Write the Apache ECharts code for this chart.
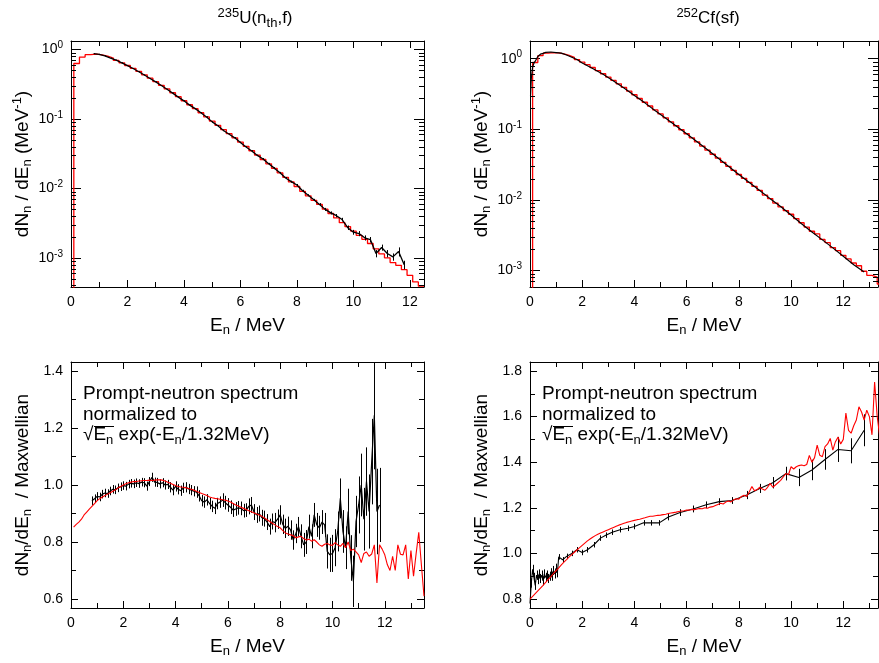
<!DOCTYPE html>
<html>
<head>
<meta charset="utf-8">
<script src="https://cdn.jsdelivr.net/npm/echarts@6/dist/echarts.min.js"></script>
<style>
  html, body { margin: 0; padding: 0; background: #fff; }
  #chart { width: 879px; height: 663px; }
</style>
</head>
<body>
<div id="chart"></div>
<script>
// ---------------- data ----------------
// ratio to Maxwellian, 235U(nth,f): calculation (red), 0.1 MeV grid from 0.1 MeV
const ratioStep = 0.1;
const ratioUCalcStart = 0.1;
const ratioUCalc = [
  0.852, 0.862, 0.870, 0.880, 0.895, 0.905, 0.915, 0.925, 0.935, 0.945,
  0.952, 0.958, 0.963, 0.968, 0.973, 0.978, 0.983, 0.990, 0.995, 1.000,
  1.004, 1.008, 1.010, 1.012, 1.012, 1.014, 1.015, 1.016, 1.016, 1.017,
  1.016, 1.017, 1.018, 1.018, 1.017, 1.014, 1.010, 1.006, 1.002, 0.998,
  0.995, 0.993, 0.992, 0.990, 0.988, 0.985, 0.982, 0.978, 0.974, 0.970,
  0.967, 0.963, 0.958, 0.955, 0.953, 0.952, 0.950, 0.948, 0.947, 0.944,
  0.940, 0.935, 0.930, 0.926, 0.922, 0.918, 0.914, 0.910, 0.906, 0.902,
  0.898, 0.895, 0.890, 0.884, 0.878, 0.872, 0.866, 0.860, 0.854, 0.850,
  0.840, 0.832, 0.828, 0.825, 0.822, 0.815, 0.818, 0.820, 0.812, 0.807,
  0.810, 0.803, 0.808, 0.800, 0.790, 0.785, 0.792, 0.795, 0.790, 0.788,
  0.798, 0.790, 0.785, 0.795, 0.780, 0.800, 0.770, 0.775, 0.765, 0.755,
  0.728, 0.760, 0.765, 0.750, 0.758, 0.790, 0.656, 0.790, 0.775, 0.755,
  0.720, 0.700, 0.750, 0.700, 0.790, 0.757, 0.755, 0.790, 0.670, 0.770,
  0.680, 0.760, 0.834, 0.720, 0.610
];
// 235U experiment (black), 0.1 MeV grid from 0.8 MeV, with absolute errors
const ratioUExpStart = 0.8;
const ratioUExp = [
  0.945, 0.952, 0.960, 0.958, 0.968, 0.972, 0.970, 0.979, 0.985, 0.983,
  0.990, 0.994, 0.998, 0.996, 1.003, 1.006, 1.004, 1.008, 1.005, 1.010,
  1.008, 0.996, 1.012, 1.027, 1.010, 1.009, 1.004, 1.008, 1.000, 1.002,
  0.992, 0.982, 0.995, 0.985, 0.980, 0.990, 0.992, 0.986, 0.982, 0.978,
  0.975, 0.962, 0.945, 0.940, 0.948, 0.935, 0.925, 0.918, 0.935, 0.940,
  0.947, 0.938, 0.930, 0.922, 0.912, 0.916, 0.920, 0.918, 0.910, 0.912,
  0.925, 0.930, 0.905, 0.895, 0.900, 0.885, 0.882, 0.870, 0.854, 0.872,
  0.868, 0.880, 0.895, 0.862, 0.848, 0.855, 0.842, 0.807, 0.830, 0.854,
  0.820, 0.790, 0.800, 0.854, 0.820, 0.895, 0.860, 0.850, 0.870, 0.860,
  0.767, 0.755, 0.760, 0.780, 0.837, 0.953, 0.837, 0.780, 0.907, 0.744,
  0.662, 0.872, 0.930, 1.000, 0.880, 1.012, 0.907, 1.082, 1.245, 0.907,
  0.930
];
const ratioUExpErr = [
  0.015, 0.015, 0.015, 0.015, 0.015, 0.015, 0.015, 0.015, 0.015, 0.015,
  0.015, 0.015, 0.015, 0.015, 0.015, 0.015, 0.015, 0.015, 0.015, 0.015,
  0.016, 0.016, 0.016, 0.016, 0.016, 0.016, 0.016, 0.016, 0.016, 0.016,
  0.018, 0.018, 0.018, 0.018, 0.018, 0.018, 0.018, 0.018, 0.018, 0.018,
  0.020, 0.020, 0.020, 0.020, 0.020, 0.020, 0.020, 0.020, 0.020, 0.020,
  0.024, 0.024, 0.024, 0.024, 0.024, 0.024, 0.024, 0.024, 0.024, 0.024,
  0.028, 0.028, 0.028, 0.028, 0.028, 0.028, 0.028, 0.028, 0.028, 0.028,
  0.034, 0.034, 0.034, 0.034, 0.034, 0.034, 0.034, 0.034, 0.034, 0.034,
  0.042, 0.042, 0.042, 0.042, 0.042, 0.042, 0.042, 0.042, 0.042, 0.042,
  0.060, 0.060, 0.065, 0.065, 0.070, 0.070, 0.075, 0.075, 0.080, 0.080,
  0.090, 0.090, 0.100, 0.110, 0.110, 0.120, 0.130, 0.150, 0.190, 0.150,
  0.130
];

// ratio to Maxwellian, 252Cf(sf): calculation (red), 0.1 MeV grid from 0
const ratioCfCalcStart = 0.0;
const ratioCfCalc = [
  0.800, 0.812, 0.824, 0.836, 0.848, 0.860, 0.873, 0.886, 0.898, 0.912,
  0.925, 0.937, 0.950, 0.962, 0.973, 0.985, 0.995, 1.005, 1.015, 1.025,
  1.035, 1.045, 1.055, 1.063, 1.071, 1.078, 1.084, 1.089, 1.094, 1.099,
  1.104, 1.109, 1.114, 1.119, 1.124, 1.128, 1.132, 1.136, 1.139, 1.142,
  1.145, 1.148, 1.150, 1.153, 1.156, 1.160, 1.163, 1.163, 1.165, 1.167,
  1.168, 1.170, 1.172, 1.175, 1.177, 1.179, 1.181, 1.184, 1.186, 1.187,
  1.190, 1.190, 1.193, 1.192, 1.195, 1.197, 1.196, 1.200, 1.198, 1.203,
  1.205, 1.210, 1.215, 1.220, 1.217, 1.225, 1.230, 1.226, 1.235, 1.240,
  1.238, 1.250, 1.255, 1.250, 1.270, 1.293, 1.275, 1.280, 1.290, 1.282,
  1.277, 1.290, 1.307, 1.290, 1.300, 1.310, 1.320, 1.335, 1.350, 1.345,
  1.380, 1.370, 1.380, 1.385, 1.388, 1.384, 1.390, 1.430, 1.400, 1.420,
  1.475, 1.430, 1.424, 1.468, 1.480, 1.504, 1.453, 1.490, 1.510, 1.480,
  1.500, 1.615, 1.540, 1.527, 1.560, 1.585, 1.643, 1.620, 1.585, 1.628,
  1.600, 1.520, 1.752, 1.600, 1.510
];
// 252Cf experiment (black)
const ratioCfExpE = [
  0.00, 0.05, 0.10, 0.15, 0.20, 0.25, 0.30, 0.35, 0.40, 0.45, 0.50,
  0.55, 0.60, 0.65, 0.70, 0.75, 0.80, 0.85, 0.90, 0.95, 1.00, 1.05,
  1.10, 1.25, 1.40, 1.60, 1.80, 2.00, 2.20, 2.45, 2.70, 2.90, 3.15,
  3.45, 3.75, 4.00, 4.35, 4.65, 4.95, 5.30, 5.75, 6.25, 6.75, 7.25,
  7.75, 8.30, 8.80, 9.30, 9.80, 10.30, 10.80, 11.30, 11.80, 12.30, 12.80
];
const ratioCfExp = [
  0.780, 0.870, 0.930, 0.895, 0.860, 0.905, 0.885, 0.910, 0.890, 0.905, 0.880,
  0.910, 0.895, 0.905, 0.890, 0.900, 0.915, 0.900, 0.925, 0.910, 0.935, 0.915,
  0.985, 0.972, 0.987, 1.000, 1.016, 1.004, 1.016, 1.038, 1.067, 1.080, 1.093,
  1.104, 1.110, 1.118, 1.134, 1.134, 1.134, 1.160, 1.179, 1.195, 1.213, 1.227,
  1.232, 1.256, 1.285, 1.310, 1.350, 1.333, 1.366, 1.412, 1.456, 1.450, 1.540
];
const ratioCfExpErr = [
  0.020, 0.020, 0.020, 0.020, 0.020, 0.020, 0.020, 0.020, 0.020, 0.020, 0.020,
  0.020, 0.020, 0.020, 0.020, 0.020, 0.020, 0.020, 0.020, 0.020, 0.020, 0.020,
  0.012, 0.012, 0.012, 0.012, 0.012, 0.012, 0.012, 0.012, 0.012, 0.012, 0.012,
  0.012, 0.012, 0.012, 0.012, 0.012, 0.012, 0.015, 0.015, 0.015, 0.015, 0.015,
  0.015, 0.018, 0.020, 0.025, 0.030, 0.038, 0.045, 0.045, 0.055, 0.055, 0.070
];

// spectra dN/dE (MeV^-1); calculation as histogram, 0.2 MeV bins
const specStep = 0.2;
const specUCalcStart = 0.1;   // lower edge of first bin
const specUCalc = [
  0.630, 0.781, 0.846, 0.858, 0.842, 0.804, 0.754, 0.699, 0.645, 0.590,
  0.537, 0.484, 0.433, 0.387, 0.345, 0.306, 0.2714, 0.2390, 0.2095, 0.1833,
  0.1605, 0.1408, 0.1231, 0.1073, 0.0933, 0.0812, 0.0705, 0.0615, 0.0536, 0.0466,
  0.0404, 0.0349, 0.0302, 0.0261, 0.0226, 0.0195, 0.0168, 0.01443, 0.01239, 0.01066,
  0.00908, 0.00783, 0.00673, 0.00588, 0.00503, 0.00435, 0.00376, 0.00321, 0.00282, 0.00243,
  0.00211, 0.00185, 0.00161, 0.00135, 0.00114, 0.00100, 0.000854, 0.00078, 0.000676, 0.00056,
  0.00045, 0.00039
];
const specUExpStart = 0.8;
const specUExp = [
  0.876, 0.855, 0.812, 0.755, 0.704, 0.645, 0.589, 0.534, 0.480, 0.430,
  0.384, 0.343, 0.304, 0.2677, 0.2358, 0.2065, 0.1827, 0.1585, 0.1411, 0.1227,
  0.1070, 0.0909, 0.0799, 0.0683, 0.0604, 0.0535, 0.0460, 0.0394, 0.0347, 0.0299,
  0.0265, 0.0226, 0.0196, 0.01676, 0.01413, 0.01251, 0.01122, 0.00926, 0.00799, 0.00685,
  0.00588, 0.00499, 0.00444, 0.00405, 0.00356, 0.00272, 0.00234, 0.00224, 0.00194, 0.00183,
  0.001156, 0.00141, 0.001156, 0.001033, 0.00123, 0.000796
];
const specUExpRelErr = [
  0.016, 0.016, 0.016, 0.016, 0.016, 0.016, 0.016, 0.016, 0.016, 0.016,
  0.017, 0.017, 0.017, 0.017, 0.017, 0.017, 0.017, 0.017, 0.017, 0.017,
  0.023, 0.023, 0.023, 0.023, 0.023, 0.023, 0.023, 0.023, 0.023, 0.023,
  0.033, 0.033, 0.033, 0.033, 0.033, 0.033, 0.033, 0.033, 0.033, 0.033,
  0.045, 0.050, 0.050, 0.055, 0.060, 0.075, 0.080, 0.085, 0.085, 0.090,
  0.120, 0.100, 0.120, 0.120, 0.150, 0.140
];
const specCfCalcStart = 0.1;
const specCfCalc = [
  0.882, 1.104, 1.196, 1.221, 1.208, 1.168, 1.111, 1.044, 0.970, 0.896,
  0.823, 0.750, 0.679, 0.6115, 0.5491, 0.4917, 0.4395, 0.3914, 0.3477, 0.3082,
  0.2726, 0.2411, 0.2132, 0.1874, 0.1648, 0.1449, 0.1274, 0.1119, 0.0983, 0.0862,
  0.0755, 0.0660, 0.0577, 0.0504, 0.0442, 0.0389, 0.0339, 0.0298, 0.0261, 0.0228,
  0.0201, 0.01768, 0.01543, 0.01357, 0.01167, 0.01038, 0.00897, 0.00791, 0.00703, 0.00623,
  0.00541, 0.00472, 0.0041, 0.00358, 0.00328, 0.00274, 0.00247, 0.0021, 0.0019, 0.00163,
  0.00145, 0.00127, 0.00116, 0.00097, 0.00085, 0.0008, 0.00064
];
const specCfExpE = [
  0.02, 0.05, 0.1, 0.15, 0.2, 0.3, 0.4, 0.5, 0.6, 0.8,
  1.0, 1.2, 1.4, 1.6, 1.8, 2.0, 2.4, 2.8, 3.2, 3.6,
  4.0, 4.4, 4.8, 5.2, 5.6, 6.0, 6.4, 6.8, 7.2, 7.6,
  8.0, 8.4, 8.8, 9.2, 9.6, 10.0, 10.4, 10.8, 11.2, 11.6,
  12.0, 12.4, 12.8
];
const specCfExp = [
  0.30, 0.522, 0.760, 0.862, 0.921, 1.076, 1.158, 1.187, 1.226, 1.243,
  1.221, 1.199, 1.127, 1.049, 0.971, 0.869, 0.727, 0.601, 0.483, 0.3827,
  0.301, 0.2364, 0.1824, 0.1428, 0.1111, 0.086, 0.0663, 0.051, 0.0391, 0.0298,
  0.0228, 0.01757, 0.01351, 0.01037, 0.00803, 0.00608, 0.00456, 0.0035, 0.0027, 0.00208,
  0.00158, 0.0012, 0.000944
];

const titles = ['{u|235}U(n{s|th},f)', '{u|252}Cf(sf)'];

// ---------------- helpers ----------------
const FONT = 'Liberation Sans, Arial, sans-serif';
const RED = '#ff0000';
const BLACK = '#000000';
const r4 = v => Math.round(v * 10000) / 10000;

function onGrid(start, step, vals) {
  return vals.map((v, i) => [r4(start + i * step), v]);
}
function pairs(xs, ys) {
  return xs.map((x, i) => [x, ys[i]]);
}
// histogram for a step line: bins start at `start`, width `step`
function hist(start, step, vals, floor) {
  const pts = [[start, floor]];
  vals.forEach((v, i) => pts.push([r4(start + i * step), v]));
  pts.push([r4(start + vals.length * step), vals[vals.length - 1]]);
  return pts;
}

const subRich = {
  s: { fontFamily: FONT, fontSize: 13, color: BLACK, padding: [10, 0, 0, 0] },
  u: { fontFamily: FONT, fontSize: 13, color: BLACK, padding: [0, 0, 10, 0] }
};
const labelRich = {
  sup: { fontFamily: FONT, fontSize: 10, color: BLACK, padding: [0, 0, 8, 0] }
};

const grids = [
  { left: 71, top: 41, width: 353, height: 246 },
  { left: 530, top: 41, width: 348, height: 246 },
  { left: 71, top: 362, width: 353, height: 246 },
  { left: 530, top: 362, width: 348, height: 246 }
].map(g => Object.assign({ outerBoundsMode: 'none', containLabel: false }, g));

const xMax = [12.5, 13.33, 13.5, 13.33];
const yDefs = [
  { type: 'log', min: 3.8e-4, max: 1.33 },
  { type: 'log', min: 5.8e-4, max: 1.78 },
  { type: 'value', min: 0.5685, max: 1.4315 },
  { type: 'value', min: 0.7606, max: 1.8394 }
];

const xAxes = [];
const yAxes = [];
grids.forEach((g, i) => {
  ['bottom', 'top'].forEach(pos => {
    xAxes.push({
      type: 'value', gridIndex: i, position: pos, min: 0, max: xMax[i], interval: 2,
      axisLine: { show: true, onZero: false, lineStyle: { color: BLACK, width: 1 } },
      axisTick: { show: true, inside: true, length: 7, lineStyle: { color: BLACK } },
      minorTick: { show: true, splitNumber: 2, length: 5, lineStyle: { color: BLACK } },
      splitLine: { show: false },
      minorSplitLine: { show: false },
      axisLabel: {
        show: pos === 'bottom', margin: 8, color: BLACK, fontFamily: FONT, fontSize: 14,
        showMinLabel: true, showMaxLabel: false
      },
      name: pos === 'bottom' ? 'E{s|n} / MeV' : '',
      nameLocation: 'middle', nameGap: 27,
      nameTextStyle: { color: BLACK, fontFamily: FONT, fontSize: 19, rich: subRich }
    });
  });
  const yd = yDefs[i];
  const isLog = yd.type === 'log';
  ['left', 'right'].forEach(pos => {
    yAxes.push({
      type: yd.type, gridIndex: i, position: pos, min: yd.min, max: yd.max,
      logBase: 10,
      axisLine: { show: true, onZero: false, lineStyle: { color: BLACK, width: 1 } },
      axisTick: { show: true, inside: true, length: isLog ? 10 : 7, lineStyle: { color: BLACK } },
      minorTick: { show: !isLog, splitNumber: 2, length: 5, lineStyle: { color: BLACK } },
      splitLine: { show: false },
      minorSplitLine: { show: false },
      axisLabel: {
        show: pos === 'left', margin: 8, color: BLACK, fontFamily: FONT, fontSize: 14,
        showMinLabel: false, showMaxLabel: false,
        formatter: isLog
          ? v => '10{sup|' + Math.round(Math.log10(v)) + '}'
          : v => v.toFixed(1),
        rich: labelRich
      },
      name: pos === 'left'
        ? (isLog ? 'dN{s|n} / dE{s|n} (MeV{u|-1})' : 'dN{s|n}/dE{s|n}  / Maxwellian')
        : '',
      nameLocation: 'middle', nameRotate: 90, nameGap: 37,
      nameTextStyle: { color: BLACK, fontFamily: FONT, fontSize: 19, rich: subRich }
    });
  });
});

function errRender(params, api) {
  const x = api.value(0);
  const p1 = api.coord([x, api.value(1)]);
  const p2 = api.coord([x, api.value(2)]);
  const px = Math.round(p1[0]) + 0.5;
  return {
    type: 'line',
    shape: { x1: px, y1: p1[1], x2: px, y2: p2[1] },
    style: { stroke: BLACK, lineWidth: 1 }
  };
}

// minor decade ticks (2..9) on the log axes, both sides
function minorRender(params, api) {
  const cs = params.coordSys;
  const y = Math.round(api.coord([0, api.value(1)])[1]) + 0.5;
  if (y <= cs.y + 1 || y >= cs.y + cs.height - 1) return null;
  return {
    type: 'group',
    children: [
      { type: 'line', shape: { x1: cs.x, y1: y, x2: cs.x + 5, y2: y }, style: { stroke: BLACK, lineWidth: 1 } },
      { type: 'line', shape: { x1: cs.x + cs.width - 5, y1: y, x2: cs.x + cs.width, y2: y }, style: { stroke: BLACK, lineWidth: 1 } }
    ]
  };
}
const minorVals = [];
for (let d = -4; d <= 0; d++) {
  for (let k = 2; k <= 9; k++) minorVals.push([0, k * Math.pow(10, d)]);
}

const lineBase = (name, gi, color, data, width, extra) => Object.assign({
  name, type: 'line', xAxisIndex: 2 * gi, yAxisIndex: 2 * gi, data,
  showSymbol: false, symbol: 'none', silent: true, clip: true,
  lineStyle: { color, width }, z: 3
}, extra || {});

const errSeries = (gi, data) => ({
  type: 'custom', xAxisIndex: 2 * gi, yAxisIndex: 2 * gi, data,
  renderItem: errRender, encode: { x: 0, y: [1, 2] }, clip: true, silent: true, z: 4
});

const uExpPts = onGrid(ratioUExpStart, ratioStep, ratioUExp);
const uExpBars = uExpPts.map((p, i) => [p[0], p[1] - ratioUExpErr[i], p[1] + ratioUExpErr[i]]);
const cfExpPts = pairs(ratioCfExpE, ratioCfExp);
const cfExpBars = cfExpPts.map((p, i) => [p[0], p[1] - ratioCfExpErr[i], p[1] + ratioCfExpErr[i]]);
const uSpecPts = onGrid(specUExpStart, specStep, specUExp);
const uSpecBars = uSpecPts.map((p, i) => [p[0], p[1] * (1 - specUExpRelErr[i]), p[1] * (1 + specUExpRelErr[i])]);

const series = [
  // top left: 235U spectrum
  lineBase('U calc', 0, RED, hist(specUCalcStart, specStep, specUCalc, 1e-5), 1.3, { step: 'end' }),
  lineBase('U exp', 0, BLACK, uSpecPts, 1.3, { z: 5 }),
  errSeries(0, uSpecBars),
  { type: 'custom', xAxisIndex: 0, yAxisIndex: 0, data: minorVals, renderItem: minorRender,
    encode: { x: 0, y: 1 }, silent: true, clip: false, z: 6 },
  // top right: 252Cf spectrum
  lineBase('Cf calc', 1, RED, hist(specCfCalcStart, specStep, specCfCalc, 1e-5), 1.3, { step: 'end' }),
  lineBase('Cf exp', 1, BLACK, pairs(specCfExpE, specCfExp), 1.2, { z: 5 }),
  { type: 'custom', xAxisIndex: 2, yAxisIndex: 2, data: minorVals, renderItem: minorRender,
    encode: { x: 0, y: 1 }, silent: true, clip: false, z: 6 },
  // bottom left: 235U ratio
  lineBase('U exp ratio', 2, BLACK, uExpPts, 1.2),
  errSeries(2, uExpBars),
  lineBase('U calc ratio', 2, RED, onGrid(ratioUCalcStart, ratioStep, ratioUCalc), 1.1, { z: 6 }),
  // bottom right: 252Cf ratio
  lineBase('Cf exp ratio', 3, BLACK, cfExpPts, 1.1),
  errSeries(3, cfExpBars),
  lineBase('Cf calc ratio', 3, RED, onGrid(ratioCfCalcStart, ratioStep, ratioCfCalc), 1.1, { z: 6 })
];

// titles and the in-plot note
const titleStyle = (text, x) => ({
  type: 'text', x, y: 7, silent: true,
  style: { text, fill: BLACK, fontFamily: FONT, fontSize: 17, align: 'center', verticalAlign: 'top', rich: subRich }
});
const note = left => [
  { type: 'text', x: left + 12, y: 384, silent: true,
    style: { text: 'Prompt-neutron spectrum', fill: BLACK, fontFamily: FONT, fontSize: 19, verticalAlign: 'top' } },
  { type: 'text', x: left + 12, y: 405, silent: true,
    style: { text: 'normalized to', fill: BLACK, fontFamily: FONT, fontSize: 19, verticalAlign: 'top' } },
  { type: 'text', x: left + 12, y: 435, silent: true,
    style: { text: '√E{s|n} exp(-E{s|n}/1.32MeV)', fill: BLACK, fontFamily: FONT, fontSize: 19,
             verticalAlign: 'middle', rich: subRich } },
  { type: 'line', silent: true, shape: { x1: left + 23, y1: 426.5, x2: left + 43, y2: 426.5 },
    style: { stroke: BLACK, lineWidth: 1 } }
];

const chart = echarts.init(document.getElementById('chart'));
chart.setOption({
  animation: false,
  backgroundColor: '#ffffff',
  grid: grids,
  xAxis: xAxes,
  yAxis: yAxes,
  series,
  graphic: [
    titleStyle(titles[0], 255),
    titleStyle(titles[1], 708)
  ].concat(note(71), note(530))
});
</script>
</body>
</html>
